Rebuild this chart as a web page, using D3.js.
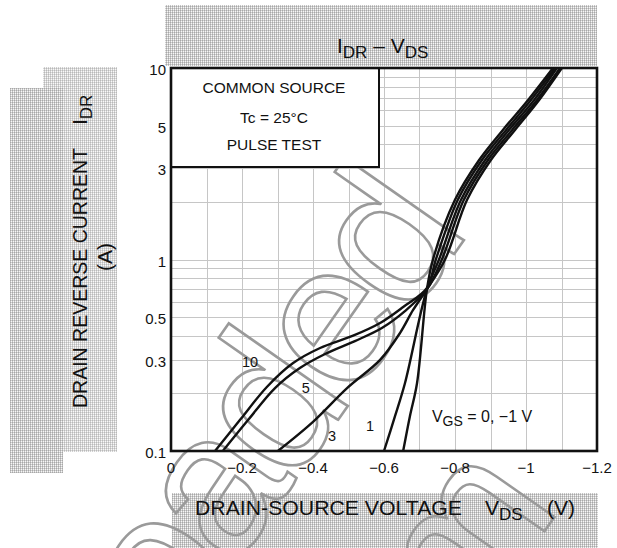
<!DOCTYPE html>
<html>
<head>
<meta charset="utf-8">
<script src="https://cdn.jsdelivr.net/npm/d3@7"></script>
<style>
  body { margin: 0; background: #fff; }
  text { font-family: "Liberation Sans", Arial, sans-serif; fill: #111; }
</style>
</head>
<body>
<div id="wrapper"></div>
<script>
// DATA (VDS in V, IDR in A)
const vds10 = [-0.124, -0.194, -0.270, -0.344, -0.420, -0.513, -0.589, -0.654, -0.721, -0.746, -0.808, -0.876, -0.944, -1.014, -1.082];
const idr10 = [0.1, 0.145, 0.216, 0.288, 0.345, 0.40, 0.466, 0.565, 0.71, 1.0, 2.05, 3.31, 4.75, 6.81, 10];
const vds5 = [-0.146, -0.217, -0.293, -0.363, -0.434, -0.518, -0.594, -0.659, -0.721, -0.763, -0.825, -0.893, -0.961, -1.031, -1.096];
const idr5 = [0.1, 0.145, 0.213, 0.271, 0.321, 0.375, 0.439, 0.538, 0.70, 1.0, 2.05, 3.31, 4.75, 6.81, 10];
const vds3 = [-0.301, -0.400, -0.496, -0.589, -0.645, -0.682, -0.721, -0.772, -0.834, -0.901, -0.969, -1.037, -1.101];
const idr3 = [0.1, 0.142, 0.213, 0.299, 0.413, 0.545, 0.70, 1.0, 2.05, 3.31, 4.75, 6.81, 10];
const vds1 = [-0.600, -0.631, -0.659, -0.721, -0.755, -0.817, -0.885, -0.952, -1.023, -1.087];
const idr1 = [0.1, 0.152, 0.226, 0.70, 1.0, 2.05, 3.31, 4.75, 6.81, 10];
const vds0 = [-0.654, -0.673, -0.693, -0.721, -0.738, -0.800, -0.868, -0.935, -1.006, -1.076];
const idr0 = [0.1, 0.152, 0.226, 0.70, 1.0, 2.05, 3.31, 4.75, 6.81, 10];

const curveNames = ["10", "5", "3", "1"];
const labelV = [-0.2225, -0.380, -0.4535, -0.5606];
const labelI = [0.292, 0.213, 0.12, 0.135];

const xTicks = [0, -0.2, -0.4, -0.6, -0.8, -1, -1.2];
const yTicks = [0.1, 0.3, 0.5, 1, 3, 5, 10];
const xGrid = d3.range(1, 12).map(i => -i / 10);
const yGrid = [0.2, 0.3, 0.4, 0.5, 0.6, 0.7, 0.8, 0.9, 1, 2, 3, 4, 5, 6, 7, 8, 9];
const legendLines = ["COMMON SOURCE", "Tc = 25°C", "PULSE TEST"];

const W = 617, H = 548;
const pLeft = 171, pRight = 597, pTop = 68, pBottom = 451;

const svg = d3.select("#wrapper").append("svg")
  .attr("width", W).attr("height", H);

const x = d3.scaleLinear().domain([0, -1.2]).range([pLeft, pRight]);
const y = d3.scaleLog().domain([0.1, 10]).range([pBottom, pTop]);

// HATCH PATTERN
const defs = svg.append("defs");
const pat = defs.append("pattern").attr("id", "hatch")
  .attr("width", 2).attr("height", 2).attr("patternUnits", "userSpaceOnUse");
pat.append("rect").attr("width", 2).attr("height", 2).attr("fill", "#f7f7f7");
pat.append("rect").attr("width", 1).attr("height", 2).attr("fill", "#c4c4c4");
pat.append("rect").attr("width", 2).attr("height", 1).attr("fill", "#cfcfcf");
pat.append("rect").attr("width", 1).attr("height", 1).attr("fill", "#a8a8a8");

const hatch = svg.append("g").attr("fill", "url(#hatch)");
hatch.append("rect").attr("x", 165).attr("y", 5).attr("width", 432).attr("height", 61);
hatch.append("rect").attr("x", 172).attr("y", 493).attr("width", 426).attr("height", 55);
hatch.append("rect").attr("x", 10).attr("y", 88).attr("width", 53).attr("height", 385);
hatch.append("rect").attr("x", 43).attr("y", 67).attr("width", 74).attr("height", 385)
  .attr("opacity", 0.8);

// GRID
const grid = svg.append("g").attr("stroke", "#c6c6c6").attr("stroke-width", 1);
grid.selectAll(".vg").data(xGrid).join("line")
  .attr("x1", d => Math.round(x(d)) + 0.5).attr("x2", d => Math.round(x(d)) + 0.5)
  .attr("y1", pTop).attr("y2", pBottom);
grid.selectAll(".hg").data(yGrid).join("line")
  .attr("y1", d => Math.round(y(d)) + 0.5).attr("y2", d => Math.round(y(d)) + 0.5)
  .attr("x1", pLeft).attr("x2", pRight);

// WATERMARK (outlined text)
const wm = svg.append("g").attr("transform", "translate(345,410) rotate(-55)");
const wmStyle = s => s.attr("font-size", 200).attr("letter-spacing", -10)
  .style("fill", "none").attr("stroke", "#9a9a9a").attr("stroke-width", 2.6);
const w1 = wm.append("text").text("Downloaded").call(wmStyle);
const pre1 = w1.node().getSubStringLength(0, 9);
w1.attr("x", 201 - (pre1 + 0.46 * 200));
const w2 = wm.append("text").text("from").call(wmStyle).attr("y", 233);
const pre2 = w2.node().getSubStringLength(0, 3);
w2.attr("x", 33 - (pre2 + 0.77 * 200));

// LEGEND BOX
svg.append("rect").attr("x", pLeft).attr("y", pTop).attr("width", 379 - pLeft).attr("height", 167 - pTop)
  .attr("fill", "#fff").attr("stroke", "#111").attr("stroke-width", 2);
svg.append("g").selectAll("text").data(legendLines).join("text")
  .attr("x", 274).attr("y", (d, i) => [93, 123, 150][i])
  .attr("text-anchor", "middle").attr("font-size", 15.5).text(d => d);

// FRAME
svg.append("rect").attr("x", pLeft).attr("y", pTop).attr("width", pRight - pLeft).attr("height", pBottom - pTop)
  .attr("fill", "none").attr("stroke", "#111").attr("stroke-width", 2.6);

// CURVES
const series = [[vds10, idr10], [vds5, idr5], [vds3, idr3], [vds1, idr1], [vds0, idr0]];
const line = d3.line().x(d => x(d[0])).y(d => y(d[1])).curve(d3.curveCatmullRom.alpha(0.5));
svg.append("g").attr("fill", "none").attr("stroke", "#111").attr("stroke-width", 2.4)
  .selectAll("path").data(series.map(s => s[0].map((v, i) => [v, s[1][i]]))).join("path")
  .attr("d", line);

// CURVE LABELS
svg.append("g").selectAll("text").data(curveNames).join("text")
  .attr("x", (d, i) => x(labelV[i])).attr("y", (d, i) => y(labelI[i]))
  .attr("dy", "0.35em").attr("text-anchor", "middle").attr("font-size", 14.5).text(d => d);

const vgs = svg.append("text").attr("x", x(-0.735)).attr("y", y(0.1417)).attr("font-size", 16);
vgs.append("tspan").text("V");
vgs.append("tspan").attr("font-size", 14).attr("dy", 4).text("GS");
vgs.append("tspan").attr("dy", -4).text(" = 0, \u22121 V");

// TICK LABELS
const fmtX = d => d === 0 ? "0" : "\u2212" + Math.abs(d);
svg.append("g").selectAll("text").data(xTicks).join("text")
  .attr("x", d => x(d)).attr("y", 473).attr("text-anchor", "middle")
  .attr("font-size", 15).text(fmtX);
svg.append("g").selectAll("text").data(yTicks).join("text")
  .attr("x", 166).attr("y", d => y(d) + 2).attr("dy", "0.35em").attr("text-anchor", "end")
  .attr("font-size", 15).text(d => d);

// TITLE
const title = svg.append("text").attr("x", 337).attr("y", 53).attr("font-size", 21);
title.append("tspan").text("I");
title.append("tspan").attr("font-size", 17).attr("dy", 5).text("DR");
title.append("tspan").attr("dy", -5).text(" \u2013 V");
title.append("tspan").attr("font-size", 17).attr("dy", 5).text("DS");

// AXIS TITLES
svg.append("text").attr("x", 195).attr("y", 515).attr("font-size", 21)
  .attr("textLength", 267).attr("lengthAdjust", "spacingAndGlyphs").text("DRAIN-SOURCE VOLTAGE");
const xv = svg.append("text").attr("x", 485).attr("y", 515).attr("font-size", 21);
xv.append("tspan").text("V");
xv.append("tspan").attr("font-size", 17).attr("dy", 5).text("DS");
svg.append("text").attr("x", 547).attr("y", 515).attr("font-size", 21).text("(V)");

const yl = svg.append("g").attr("transform", "translate(87,408) rotate(-90)");
yl.append("text").attr("x", 0).attr("y", 0).attr("font-size", 21)
  .attr("textLength", 260).attr("lengthAdjust", "spacingAndGlyphs").text("DRAIN REVERSE CURRENT");
const yi = yl.append("text").attr("x", 283).attr("y", 0).attr("font-size", 21);
yi.append("tspan").text("I");
yi.append("tspan").attr("font-size", 17).attr("dy", 5).text("DR");
svg.append("text").attr("transform", "translate(112,257) rotate(-90)")
  .attr("text-anchor", "middle").attr("font-size", 21).text("(A)");
</script>
</body>
</html>
